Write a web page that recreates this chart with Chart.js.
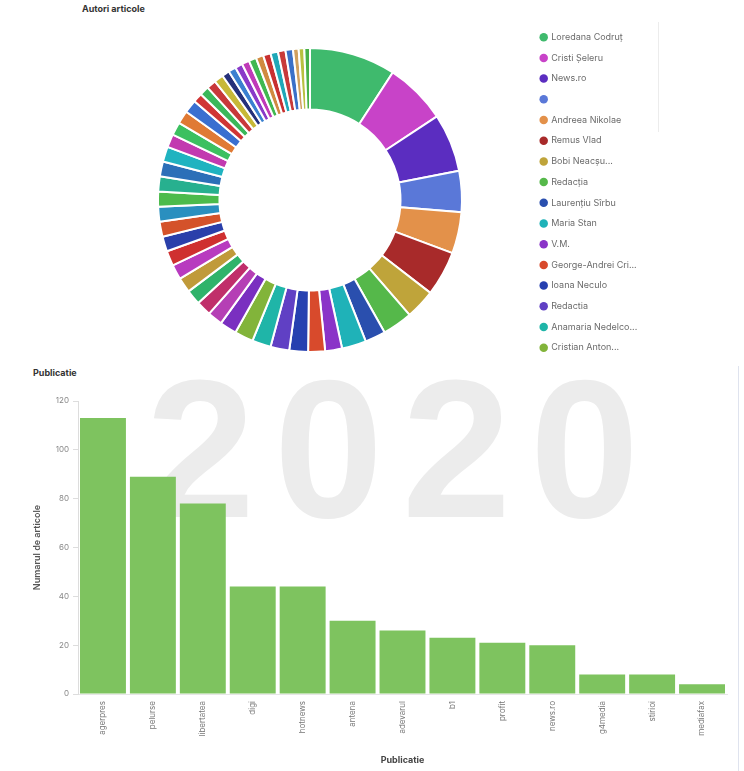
<html><head><meta charset="UTF-8">
<title>Autori si publicatii 2020</title>
<style>
    body, html {
        margin: 0;
        padding: 0;
        background: #fff;
        font-family: 'Inter', sans-serif;
    }
    .page {
        position: relative;
        width: 744px;
        height: 771px;
        overflow: hidden;
    }
    .year {
        position: absolute;
        left: 146px;
        top: 352px;
        font-family: 'Liberation Sans', sans-serif;
        font-weight: bold;
        font-size: 196px;
        line-height: 1;
        letter-spacing: 19px;
        color: #ececec;
    }
    .panel-title {
        position: absolute;
        font-size: 9px;
        font-weight: bold;
        color: #333;
    }
    .scroll-line {
        position: absolute;
        left: 658px;
        top: 22px;
        width: 1px;
        height: 110px;
        background: #ececec;
    }
    .panel-edge {
        position: absolute;
        left: 738px;
        top: 366px;
        width: 1px;
        height: 405px;
        background: #dfe3ee;
    }
    canvas {
        position: absolute;
        left: 0;
    }
</style>
<script src="https://cdn.jsdelivr.net/npm/chart.js"></script>
</head>
<body>
<div class="page">
    <div class="year">2020</div>
    <div class="panel-title" style="left:82px;top:3px;">Autori articole</div>
    <div class="panel-title" style="left:33px;top:367px;">Publicatie</div>
    <div class="scroll-line"></div>
    <div class="panel-edge"></div>
    <canvas id="authorsChart" width="744" height="379" style="top:0;"></canvas>
    <canvas id="sourcesChart" width="744" height="406" style="top:365px;"></canvas>
</div>

<script>
    // autori (primii 16 apar in legenda)
    const namedAuthors = ['Loredana Codruț', 'Cristi Șeleru', 'News.ro', '', 'Andreea Nikolae', 'Remus Vlad',
        'Bobi Neacșu...', 'Redacția', 'Laurențiu Sîrbu', 'Maria Stan', 'V.M.', 'George-Andrei Cri...',
        'Ioana Neculo', 'Redactia', 'Anamaria Nedelco...', 'Cristian Anton...'];
    const otherAuthors = Array.from({length: 35}, (_, i) => 'Autor ' + (i + 17));
    const authorLabels = namedAuthors.concat(otherAuthors);
    const authorCounts = [46, 33, 31, 22, 22, 24, 16, 16, 11, 13, 9, 9, 10, 10, 10, 10,
        9, 8, 8, 8, 8, 8, 8, 8, 8, 8, 8, 8, 8, 8,
        7, 7, 7, 7, 5, 5, 5, 5, 4, 4, 4, 4, 4, 4, 4, 4, 4, 4, 3, 3, 3];
    const authorColors = ['#3fba6d', '#c843c8', '#5b2dc0', '#5a78d8', '#e3914a', '#a82a2a', '#bfa43a', '#55b84a',
        '#2a4fae', '#1fb2b8', '#8a34c8', '#d84a2c', '#2640b0', '#6040c4', '#1fb5a8', '#82b43a',
        '#7a2fc0', '#b53fb5', '#c02f6a', '#2fb36a', '#c09a3a', '#b83bbf', '#cf3030', '#2a3faa',
        '#d4522a', '#2a8fbf', '#4cbb4c', '#27b08f', '#2c6fb8', '#20b3c0', '#c23ab0', '#3cc060',
        '#e07a35', '#3a6fd0', '#d03535', '#3ab85a', '#c8383a', '#c7b838', '#25307a', '#3a80d0',
        '#8a3ac8', '#c03ab8', '#40b850', '#d08a40', '#c83030', '#20a8b8', '#c83a3a', '#3a70c8',
        '#d0a060', '#b8c040', '#48b048'];

    // publicatii
    const sources = ['agerpres', 'pelurse', 'libertatea', 'digi', 'hotnews', 'antena', 'adevarul',
        'b1', 'profit', 'news.ro', 'g4media', 'stirioi', 'mediafax'];
    const articleCounts = [113, 89, 78, 44, 44, 30, 26, 23, 21, 20, 8, 8, 4];
    const countTicks = [0, 20, 40, 60, 80, 100, 120];

    const baseLabels = Chart.overrides.doughnut.plugins.legend.labels.generateLabels;

    new Chart(document.getElementById('authorsChart'), {
        type: 'doughnut',
        data: {
            labels: authorLabels,
            datasets: [{
                data: authorCounts,
                backgroundColor: authorColors,
                borderColor: '#fff',
                borderWidth: 2
            }]
        },
        options: {
            responsive: false,
            animation: false,
            radius: 152,
            cutout: 106,
            layout: {padding: {top: 21, bottom: 0, left: 91, right: 105}},
            plugins: {
                tooltip: {enabled: false},
                legend: {
                    position: 'right',
                    align: 'start',
                    maxWidth: 110,
                    labels: {
                        usePointStyle: true,
                        pointStyle: 'circle',
                        boxWidth: 6,
                        boxHeight: 6,
                        padding: 11.7,
                        color: '#6b6b6b',
                        font: {family: 'Inter', size: 9},
                        filter: (item) => item.index < 16,
                        generateLabels: (chart) => baseLabels(chart).map(item => {
                            item.lineWidth = 0;
                            return item;
                        })
                    }
                }
            }
        }
    });

    new Chart(document.getElementById('sourcesChart'), {
        type: 'bar',
        data: {
            labels: sources,
            datasets: [{
                label: 'Numarul de articole',
                data: articleCounts,
                backgroundColor: '#7ec35f',
                barPercentage: 0.92,
                categoryPercentage: 1.0
            }]
        },
        options: {
            responsive: false,
            animation: false,
            layout: {padding: {top: 36, right: 17, left: 0, bottom: 0}},
            plugins: {
                legend: {display: false},
                tooltip: {enabled: false}
            },
            scales: {
                x: {
                    afterFit: (scale) => { scale.height = 77; },
                    grid: {display: false, drawTicks: false},
                    border: {display: true, color: '#e6e6e6'},
                    ticks: {
                        autoSkip: false,
                        minRotation: 90,
                        maxRotation: 90,
                        padding: 7,
                        color: '#777',
                        font: {family: 'Inter', size: 8}
                    },
                    title: {
                        display: true,
                        text: 'Publicatie',
                        color: '#444',
                        font: {family: 'Inter', size: 9, weight: 'bold'},
                        padding: {top: 4, bottom: 5}
                    }
                },
                y: {
                    min: 0,
                    max: 120,
                    afterFit: (scale) => { scale.width = 78; },
                    afterBuildTicks: (scale) => {
                        scale.ticks = countTicks.map(v => ({value: v}));
                    },
                    grid: {drawOnChartArea: false, drawTicks: true, tickLength: 5, color: '#ddd'},
                    border: {display: true, color: '#ddd'},
                    ticks: {
                        padding: 4,
                        color: '#888',
                        font: {family: 'Inter', size: 8}
                    },
                    title: {
                        display: true,
                        text: 'Numarul de articole',
                        color: '#555',
                        font: {family: 'Inter', size: 9, weight: '600'},
                        padding: {top: 31.6, bottom: 4}
                    }
                }
            }
        }
    });
</script>
</body>
</html>
